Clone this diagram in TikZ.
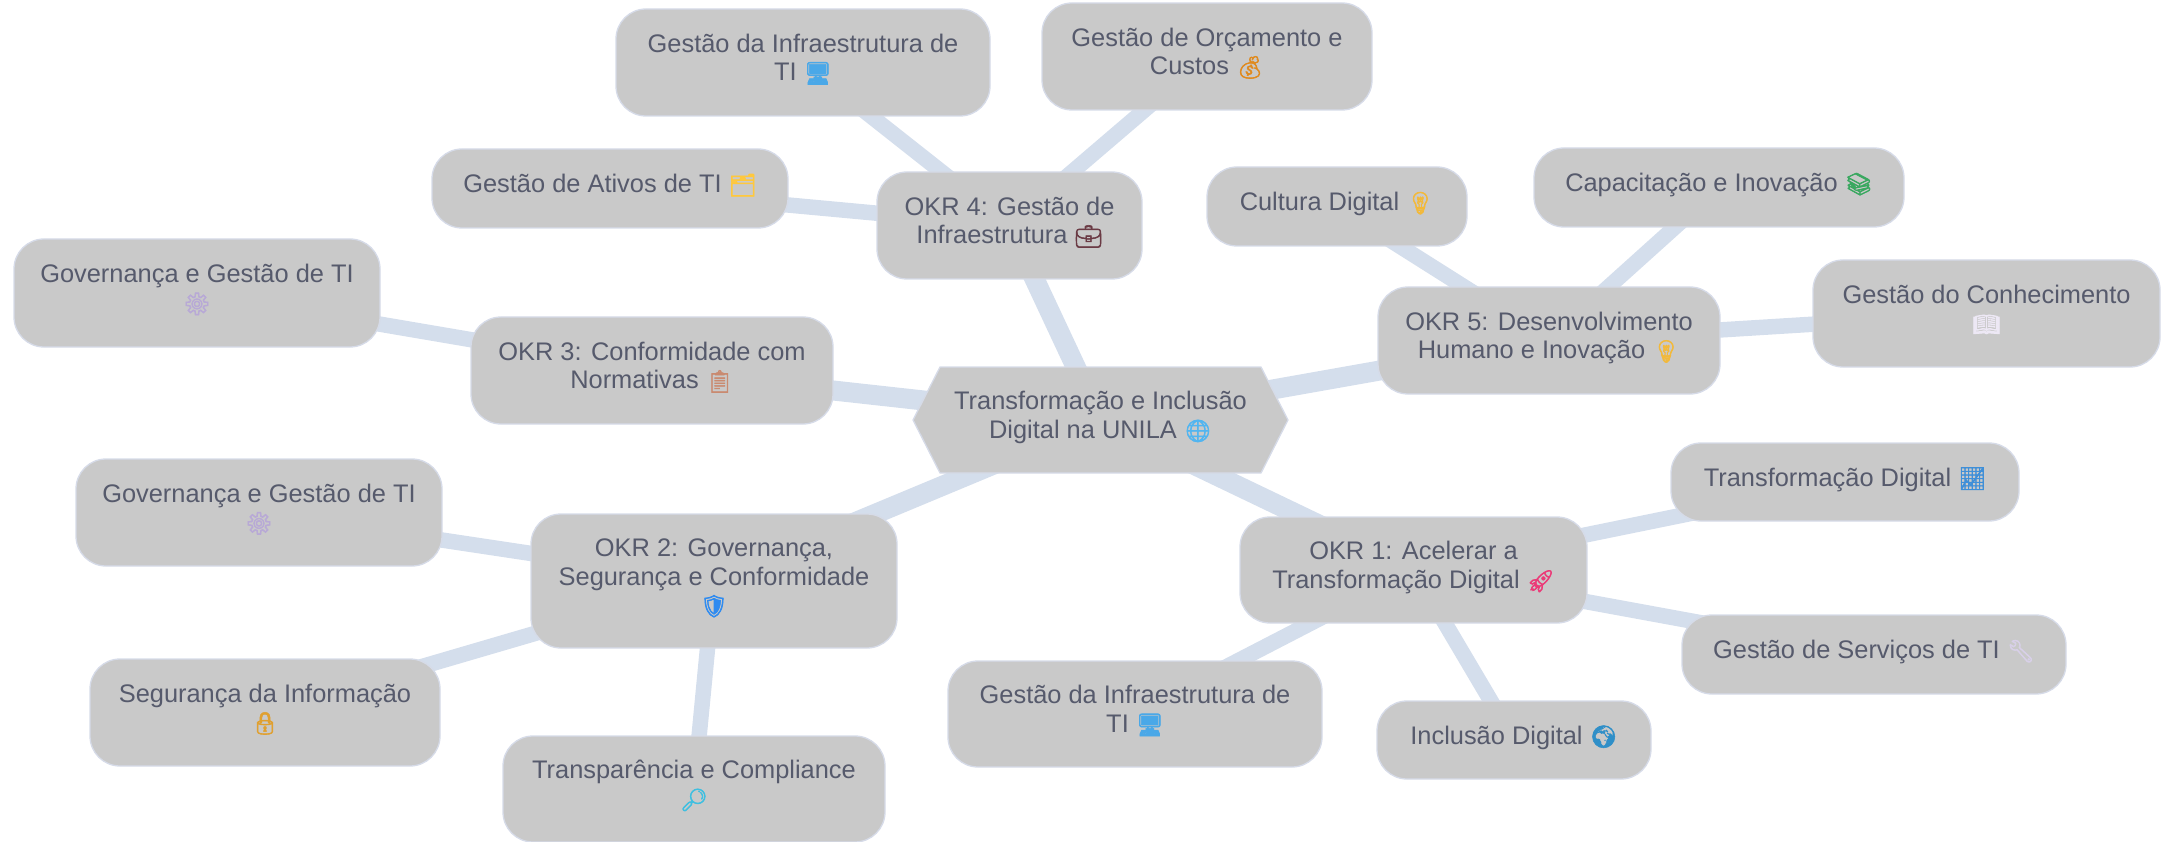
\documentclass[tikz,border=0pt]{standalone}
\usepackage{fontspec}
\setmainfont{Liberation Sans}
\newfontfamily\emofont[AutoFakeBold=2.5]{Noto Emoji}
\usetikzlibrary{shapes.symbols,backgrounds}
\definecolor{edgec}{HTML}{D4DEEC}
\definecolor{boxc}{HTML}{C9C9C9}
\definecolor{linec}{HTML}{D6DBE8}
\definecolor{textc}{HTML}{565A6C}
\newcommand{\emj}[2]{{\color[HTML]{#1}\emofont\bfseries\fontsize{22}{28.5}\selectfont #2}}
\newcommand{\mmtxt}[1]{\raisebox{1.5pt}[\height][\depth]{\begin{tabular}{@{}c@{}}#1\end{tabular}}}
\tikzset{
  mmbase/.style={draw=linec,line width=1.3pt,fill=boxc,text=textc,inner sep=0pt,font=\fontsize{25.4}{28.5}\selectfont},
  mmbox/.style={mmbase,rectangle,rounded corners=30pt},
  leafedge/.style={draw=edgec,line width=15.5pt},
  okredge/.style={draw=edgec,line width=20pt}
}
% name, x0, x1, y0, y1 (pixels, y downward), text
\newcommand{\mmnode}[6]{\node[mmbox,minimum width={#3-#2},minimum height={#5-#4}] (#1) at ({(#2+#3)/2},{(#4+#5)/2}) {\mmtxt{#6}};}
\begin{document}
\begin{tikzpicture}[x=1pt,y=-1pt]
\useasboundingbox (0,0) rectangle (2163,842);
\node[mmbase,signal,signal to=west and east,signal pointer angle=126,minimum width=375,minimum height=106] (root) at (1100.5,420) {\mmtxt{Transformação e Inclusão\\Digital na UNILA \emj{52B5F0}{🌐}}};
\mmnode{okra}{1240}{1587}{517}{623}{OKR 1: Acelerar a\\Transformação Digital \emj{EB3B78}{🚀}}
\mmnode{okrb}{531}{897}{514}{648}{OKR 2: Governança,\\Segurança e Conformidade\\\emj{2F8BF0}{🛡}}
\mmnode{okrc}{471}{833}{317}{424}{OKR 3: Conformidade com\\Normativas \emj{C98A70}{📋}}
\mmnode{okrd}{877}{1142}{172}{279}{OKR 4: Gestão de\\Infraestrutura \emj{6B3B45}{💼}}
\mmnode{okre}{1378}{1720}{287}{394}{OKR 5: Desenvolvimento\\Humano e Inovação \emj{F2B93B}{💡}}
\mmnode{aa}{1671}{2019}{443}{521}{Transformação Digital \emj{3F8FD8}{📈}}
\mmnode{ab}{1682}{2066}{615}{694}{Gestão de Serviços de TI \emj{D8D0E8}{🔧}}
\mmnode{ac}{1377}{1651}{701}{779}{Inclusão Digital \emj{2F8FC8}{🌍}}
\mmnode{ad}{948}{1322}{661}{767}{Gestão da Infraestrutura de\\TI \emj{4AA8E8}{🖥}}
\mmnode{ba}{76}{442}{459}{566}{Governança e Gestão de TI\\\emj{B8A9D6}{⚙}}
\mmnode{bb}{90}{440}{659}{766}{Segurança da Informação\\\emj{E0A030}{🔒}}
\mmnode{bc}{503}{885}{736}{842}{Transparência e Compliance\\\emj{3FBFE0}{🔎}}
\mmnode{ca}{14}{380}{239}{347}{Governança e Gestão de TI\\\emj{B8A9D6}{⚙}}
\mmnode{da}{616}{990}{9}{116}{Gestão da Infraestrutura de\\TI \emj{4AA8E8}{🖥}}
\mmnode{db}{1042}{1372}{3}{110}{Gestão de Orçamento e\\Custos \emj{E08A1E}{💰}}
\mmnode{dc}{432}{788}{149}{228}{Gestão de Ativos de TI \emj{FFC83D}{🗂}}
\mmnode{ea}{1207}{1467}{167}{246}{Cultura Digital \emj{F2B93B}{💡}}
\mmnode{eb}{1534}{1904}{148}{227}{Capacitação e Inovação \emj{3AA860}{📚}}
\mmnode{ec}{1813}{2160}{260}{367}{Gestão do Conhecimento\\\emj{EDE8F5}{📖}}
\begin{scope}[on background layer]
\draw[okredge] (root.center) -- (okra.center);
\draw[okredge] (root.center) -- (okrb.center);
\draw[okredge] (root.center) -- (okrc.center);
\draw[okredge] (root.center) -- (okrd.center);
\draw[okredge] (root.center) -- (okre.center);
\draw[leafedge] (okra.center) -- (aa.center);
\draw[leafedge] (okra.center) -- (ab.center);
\draw[leafedge] (okra.center) -- (ac.center);
\draw[leafedge] (okra.center) -- (ad.center);
\draw[leafedge] (okrb.center) -- (ba.center);
\draw[leafedge] (okrb.center) -- (bb.center);
\draw[leafedge] (okrb.center) -- (bc.center);
\draw[leafedge] (okrc.center) -- (ca.center);
\draw[leafedge] (okrd.center) -- (da.center);
\draw[leafedge] (okrd.center) -- (db.center);
\draw[leafedge] (okrd.center) -- (dc.center);
\draw[leafedge] (okre.center) -- (ea.center);
\draw[leafedge] (okre.center) -- (eb.center);
\draw[leafedge] (okre.center) -- (ec.center);
\end{scope}
\end{tikzpicture}
\end{document}
